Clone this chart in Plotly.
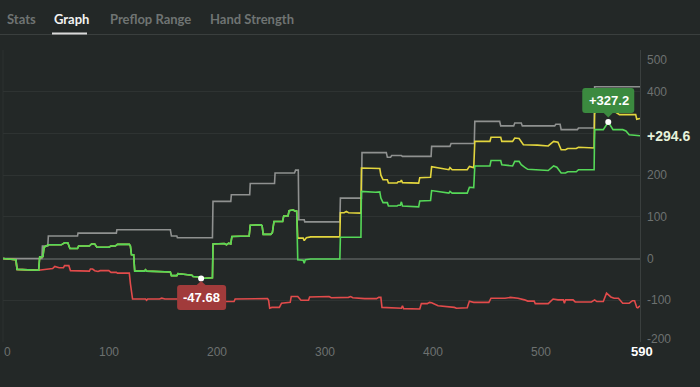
import plotly.graph_objects as go

# ---------------- data ----------------
green_h = [0, 12, 13, 20, 28, 33, 34, 37, 38, 42, 54, 57, 60, 62, 69, 70, 80, 82, 85, 87, 98, 100, 104, 106, 117,
           118, 119, 121, 122, 131, 132, 133, 155, 156, 161, 162, 165, 175, 176, 182, 183.5, 194, 194.5, 205, 207,
           209, 211, 212, 228, 229, 239, 240, 241, 248, 249.5, 251, 259, 260, 264, 265, 269, 270, 272,
           273, 278, 279, 280, 285, 312, 312.5, 331.5, 332, 345, 349, 350, 352, 356, 357, 365, 366, 368, 369, 370,
           385, 386, 396, 397, 404, 413, 414, 416, 430, 432, 436, 437, 451, 452, 461, 462, 472, 474, 478, 480,
           483, 486, 505, 510, 513, 517, 521, 523, 531, 533, 546, 547.5, 548, 556, 560.6, 563, 565, 574, 577,
           580, 590]
green_v = [0, -3, -26, -27, -29, -28, 4, 5, 27, 33, 33, 38, 38, 24, 24, 30, 30, 35, 35, 27, 27, 30, 30, 34, 34,
           30, 9, 9, -30, -30, -27, -30, -32, -41, -41, -36, -37, -40, -43, -44, -47.68, -46, 35, 36, 33,
           37, 35, 53, 54, 80, 81, 79, 58, 58, 62, 89, 89, 102, 102, 115, 117, 114, 114,
           -3, -4, -11, -3, -1, -1, 51, 51, 161, 159, 160, 145, 134, 134, 126, 126, 128, 128, 136, 126,
           124, 138, 139, 163, 160, 157, 161, 157, 157, 171, 170, 222, 222, 235, 235, 225, 222, 233, 233, 225,
           219, 214, 211, 222, 219, 205, 205, 208, 208, 213, 213, 213, 309, 309, 327.2, 316, 309, 309, 306,
           297, 294.6]

# yellow follows the green line until hand 272, then splits off
yellow_split = 272
yellow_tail_h = [273, 278, 279, 281, 285, 312, 312.5, 316, 318, 320, 331.5, 332, 345, 349, 350, 352, 356, 357,
                 365, 366, 368, 369, 370, 385, 386, 396, 397, 404, 413, 414, 416, 430, 432, 436, 437, 451, 452,
                 461, 462, 472, 474, 478, 480, 482, 495, 505, 510, 514, 517, 521, 523, 531, 533, 546, 547.5, 548,
                 550, 567, 571, 586, 587, 590]
yellow_tail_v = [49, 49, 43, 50, 52, 52, 110, 110, 113, 110, 109, 217, 215, 216, 200, 189, 189, 181,
                 181, 184, 184, 188, 182, 181, 194, 195, 220, 217, 213, 218, 213, 213, 221, 218, 281, 281, 291,
                 291, 281, 281, 289, 288, 281, 273, 272, 270, 281, 279, 261, 261, 264, 264, 267, 265, 265, 349,
                 352, 352, 345, 345, 334, 336]

# red follows the green line until hand 33
red_split = 33
red_tail_h = [46, 48, 52, 56, 57, 61, 62.5, 80, 81, 83, 85, 88, 90, 98, 100, 105, 106, 117, 118, 120, 132, 133,
              134, 145, 147, 150, 175, 200, 205, 214, 215, 245, 246, 247, 249, 256, 258, 266, 267, 273, 276, 283,
              284, 302, 304, 320, 322, 324, 335, 346, 348, 350, 351, 365, 369, 370, 371, 386, 387.5, 393, 395,
              397, 403, 418, 420, 430, 432, 436, 450, 452, 465, 470, 477, 483, 486, 492, 493, 505, 509.5, 514,
              519, 520, 521, 528, 530, 545, 548, 550, 556, 559, 563, 566, 570, 574, 580, 583, 585, 587, 588, 590]
red_tail_v = [-24, -19, -22, -22, -17, -17, -29, -30, -25, -25, -29, -31, -29, -29, -33, -33, -35, -35, -60, -97,
              -97, -100, -97, -97, -95, -97, -97, -99, -103, -103, -97, -96, -100, -119, -117, -117, -107, -105,
              -91, -91, -100, -100, -92, -91, -94, -93, -91, -94, -96, -96, -93, -93, -117, -119, -119, -113,
              -120, -121, -108, -108, -105, -106, -113, -117, -119, -118, -102, -105, -105, -95, -95, -93, -95,
              -99, -102, -102, -108, -108, -97, -99, -99, -107, -99, -99, -104, -104, -99, -103, -103, -83, -92,
              -95, -95, -107, -107, -101, -101, -117, -118, -113]

gray_h = [0, 36, 36.5, 41.5, 42, 69, 69.5, 105, 105.5, 155, 156, 161, 161.5, 194, 194.5, 211, 211.5, 228.5, 229,
          251.5, 252, 270, 271, 273.5, 274, 279, 279.5, 312, 312.5, 332, 332.5, 355, 356, 359, 360, 369, 370,
          396.5, 397, 414, 415, 436.5, 437, 460, 461, 473, 474, 480, 481, 511, 512, 516, 517, 532, 533, 547.5,
          548, 590]
gray_v = [0, 0, 30, 30, 54, 54, 61, 61, 69, 69, 54, 54, 50, 50, 137, 137, 153, 153, 180,
          180, 205, 205, 212, 212, 93, 93, 88, 88, 145, 145, 254, 254, 243, 243, 247, 247, 245,
          245, 269, 269, 276, 276, 329, 329, 318, 318, 325, 325, 318, 318, 322, 322, 309, 309, 313, 313,
          412, 412]

tabs = ["Stats", "Graph", "Preflop Range", "Hand Strength"]
active_tab = "Graph"
y_ticks = [-200, -100, 0, 100, 200, 300, 400, 500]
x_ticks = [0, 100, 200, 300, 400, 500]
x_last = 590
max_point = (560.6, 327.2)
min_point = (183.5, -47.68)

# ---------------- build series ----------------
k = sum(1 for h in green_h if h <= yellow_split)
yellow_h = green_h[:k] + yellow_tail_h
yellow_v = green_v[:k] + yellow_tail_v
r = sum(1 for h in green_h if h <= red_split)
red_h = green_h[:r] + red_tail_h
red_v = green_v[:r] + red_tail_v

BG = "#232827"
GREEN = "#55d858"
YELLOW = "#e3d63e"
RED = "#e24b4b"
GRAY = "#8f9190"
TICK = "#6d7170"

L, R, T, B = 3, 60, 50, 45
W, H = 700, 387
PW, PH = W - L - R, H - T - B


def px_x(px):
    return (px - L) / PW


def px_y(py):
    return (H - B - py) / PH


fig = go.Figure()
for hs, vs, col in [(gray_h, gray_v, GRAY), (red_h, red_v, RED), (yellow_h, yellow_v, YELLOW),
                    (green_h, green_v, GREEN)]:
    fig.add_trace(go.Scatter(x=hs, y=vs, mode="lines", line=dict(color=col, width=1.6),
                             hoverinfo="skip", showlegend=False))

fig.add_trace(go.Scatter(x=[max_point[0], min_point[0]], y=[max_point[1], min_point[1]], mode="markers",
                         marker=dict(color="white", size=6), hoverinfo="skip", showlegend=False))

shapes = []
annotations = []


def rounded_box(x0, x1, y0, y1, rr=3):
    return (f"M{x0+rr},{y0} L{x1-rr},{y0} Q{x1},{y0} {x1},{y0+rr} L{x1},{y1-rr} Q{x1},{y1} {x1-rr},{y1} "
            f"L{x0+rr},{y1} Q{x0},{y1} {x0},{y1-rr} L{x0},{y0+rr} Q{x0},{y0} {x0+rr},{y0} Z")


for pt, col, up, label in [(max_point, "#3b8a3f", True, f"+{max_point[1]}"),
                           (min_point, "#a13b3b", False, f"{min_point[1]}")]:
    if up:
        box = rounded_box(-26, 26, 9, 34)
        caret = "M-5,9.5 L5,9.5 L0,4.5 Z"
        ys = 21.5
    else:
        box = rounded_box(-24, 25, -31.5, -6.5)
        caret = "M-5,-7 L5,-7 L0,-2.5 Z"
        ys = -19
    for p in (box, caret):
        shapes.append(dict(type="path", xref="x", yref="y", xsizemode="pixel", ysizemode="pixel",
                           xanchor=pt[0], yanchor=pt[1], path=p, fillcolor=col, line=dict(width=0),
                           layer="above"))
    annotations.append(dict(x=pt[0], y=pt[1], xref="x", yref="y", text=f"<b>{label}</b>", showarrow=False,
                            yshift=ys, xshift=0.5, font=dict(color="white", size=13, family="Liberation Sans")))

# final value label
final_v = green_v[-1]
annotations.append(dict(x=1, xref="paper", y=final_v, yref="y", text=f"<b>+{final_v}</b>",
                        showarrow=False, xanchor="left", xshift=5,
                        font=dict(color="#e6f2da", size=14, family="Liberation Sans")))

# y tick labels (the one hidden behind the final value label is skipped)
for v in y_ticks:
    if abs(v - final_v) < 30:
        continue
    shift = -10 if v == max(y_ticks) else (3.5 if v == min(y_ticks) else 0)
    annotations.append(dict(x=1, xref="paper", y=v, yref="y", text=str(v), showarrow=False, xanchor="left",
                            xshift=5, yshift=shift, font=dict(color=TICK, size=12, family="Liberation Sans")))
# x tick labels
for v in x_ticks:
    annotations.append(dict(x=v, xref="x", y=0, yref="paper", text=str(v), showarrow=False, yshift=-18.5,
                            xshift=4 if v == 0 else -1.5, font=dict(color=TICK, size=12, family="Liberation Sans")))
annotations.append(dict(x=x_last, xref="x", y=0, yref="paper", text=f"<b>{x_last}</b>", showarrow=False,
                        yshift=-18.5, xshift=1.5, font=dict(color="white", size=13, family="Liberation Sans")))

# tabs
tab_px = [4.5, 52, 108, 208]
for name, tx in zip(tabs, tab_px):
    annotations.append(dict(x=px_x(tx), xref="paper", y=px_y(19), yref="paper", text=name, showarrow=False,
                            xanchor="left", yanchor="middle",
                            font=dict(color="#f2f2f2" if name == active_tab else "#6f7473", size=13,
                                      family="Lato", weight=700)))
shapes.append(dict(type="line", xref="paper", yref="paper", x0=px_x(0), x1=px_x(700), y0=px_y(34.5),
                   y1=px_y(34.5), line=dict(color="#3a3f3e", width=1.2)))
shapes.append(dict(type="line", xref="paper", yref="paper", x0=px_x(52), x1=px_x(87), y0=px_y(33.5),
                   y1=px_y(33.5), line=dict(color="#d9d9d9", width=2)))
shapes.append(dict(type="line", xref="paper", yref="paper", x0=0, x1=0, y0=0, y1=1,
                   line=dict(color="#2c3130", width=1), layer="below"))

fig.update_layout(
    width=W, height=H, margin=dict(l=L, r=R, t=T, b=B),
    paper_bgcolor=BG, plot_bgcolor=BG,
    shapes=shapes, annotations=annotations, hovermode=False, showlegend=False,
    xaxis=dict(range=[0, x_last], showgrid=False, zeroline=False, showticklabels=False, ticks="",
               showline=False, fixedrange=True),
    yaxis=dict(range=[min(y_ticks), max(y_ticks)], tickvals=y_ticks, showticklabels=False, ticks="",
               showgrid=True, gridcolor="#2e3332", gridwidth=1, zeroline=True, zerolinecolor="#4a4f4e",
               zerolinewidth=1.5, side="right", showline=True, linecolor="#3a3f3e", linewidth=1,
               fixedrange=True),
)

fig.write_html("out.html", config={"displayModeBar": False},
               post_script="document.body.style.margin='0';document.body.style.overflow='hidden';"
                           "document.body.style.background='" + BG + "';")
